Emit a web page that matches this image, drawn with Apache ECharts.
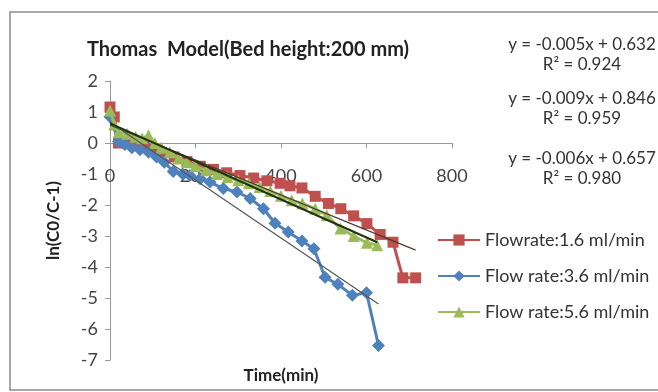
<!DOCTYPE html>
<html>
<head>
<meta charset="utf-8">
<script src="https://cdn.jsdelivr.net/npm/echarts@6/dist/echarts.min.js"></script>
<style>
  html, body { margin: 0; padding: 0; background: #fff; }
  #chart { width: 658px; height: 392px; }
</style>
</head>
<body>
<div id="chart"></div>
<script>
// values: [time (min), ln(C0/C-1)]
var redData = [[0, 1.16], [10, 0.84], [20, 0.0], [40, -0.02], [60, -0.05], [80, -0.1], [100, -0.2],
  [120, -0.3], [150, -0.45], [180, -0.6], [211, -0.75], [242, -0.85], [273, -0.96], [304, -1.05],
  [336, -1.13], [367, -1.22], [398, -1.3], [421, -1.38], [449, -1.45], [480, -1.72], [511, -1.95],
  [540, -2.12], [570, -2.35], [601, -2.6], [632, -2.95], [662, -3.2], [685, -4.35], [715, -4.35]];
var blueData = [[0, 0.85], [20, 0.05], [35, -0.05], [51, -0.15], [70, -0.22], [90, -0.3], [109, -0.45],
  [127, -0.62], [148, -0.92], [170, -1.0], [187, -1.05], [211, -1.15], [234, -1.26], [265, -1.47],
  [297, -1.58], [328, -1.79], [359, -2.12], [386, -2.59], [417, -2.87], [449, -3.16], [477, -3.41],
  [503, -4.33], [533, -4.56], [567, -4.91], [600, -4.83], [628, -6.53]];
var greenData = [[0, 1.05], [10, 0.6], [20, 0.35], [40, 0.3], [60, 0.2], [75, 0.15], [90, 0.25],
  [105, 0.0], [120, -0.15], [140, -0.3], [160, -0.5], [180, -0.62], [200, -0.75], [225, -0.88],
  [250, -1.0], [275, -1.1], [300, -1.2], [325, -1.3], [350, -1.42], [375, -1.55], [400, -1.7],
  [425, -1.85], [450, -1.95], [480, -2.12], [507, -2.33], [539, -2.76], [570, -3.0], [601, -3.22],
  [625, -3.3]];

var seriesNames = ['Flowrate:1.6 ml/min', 'Flow rate:3.6 ml/min', 'Flow rate:5.6 ml/min'];
var equations = [
  ['y = -0.005x + 0.632', 'R\u00b2 = 0.924'],
  ['y = -0.009x + 0.846', 'R\u00b2 = 0.959'],
  ['y = -0.006x + 0.657', 'R\u00b2 = 0.980']
];
var xTicks = { min: 0, max: 800, interval: 200 };
var yTicks = { min: -7, max: 2, interval: 1 };

// linear trendline over the data range (least squares)
function trend(data) {
  var n = data.length, sx = 0, sy = 0, sxx = 0, sxy = 0;
  data.forEach(function (p) { sx += p[0]; sy += p[1]; sxx += p[0] * p[0]; sxy += p[0] * p[1]; });
  var a = (n * sxy - sx * sy) / (n * sxx - sx * sx);
  var b = (sy - a * sx) / n;
  var x0 = data[0][0], x1 = data[n - 1][0];
  return [[x0, a * x0 + b], [x1, a * x1 + b]];
}

var font = 'Lato';
var gridTop = 81, gridBottom = 32, chartH = 392;
// move the x axis up from the grid bottom to y = 0
var plotH = chartH - gridTop - gridBottom;
var zeroShift = plotH * (0 - yTicks.min) / (yTicks.max - yTicks.min);

var chart = echarts.init(document.getElementById('chart'));

var eqGraphics = [];
var eqTop = [35, 89, 149];
equations.forEach(function (eq, i) {
  eqGraphics.push({
    type: 'text', x: 582, y: eqTop[i],
    style: { text: eq[0] + '\n' + eq[1], textAlign: 'center', fill: '#333',
      font: '17px ' + font, lineHeight: 20 }
  });
});

var option = {
  animation: false,
  title: {
    text: 'Thomas  Model(Bed height:200 mm)',
    left: 243, top: 35, textAlign: 'center',
    textStyle: { fontFamily: font, fontSize: 20, fontWeight: 'bold', color: '#222' }
  },
  graphic: [{
    type: 'rect', shape: { x: 10, y: 12, width: 660, height: 378 },
    style: { fill: 'none', stroke: '#8a8a8a', lineWidth: 1.5 }, silent: true
  }].concat(eqGraphics),
  legend: {
    orient: 'vertical', left: 432, top: 226, itemGap: 18,
    itemWidth: 42, itemHeight: 14,
    data: seriesNames,
    textStyle: { fontFamily: font, fontSize: 18, color: '#333' }
  },
  grid: { left: 110, right: 206, top: gridTop, bottom: gridBottom, outerBoundsMode: 'none', containLabel: false },
  xAxis: {
    type: 'value', min: xTicks.min, max: xTicks.max, interval: xTicks.interval,
    offset: -zeroShift,
    name: 'Time(min)', nameLocation: 'middle', nameGap: 224,
    nameTextStyle: { fontFamily: font, fontSize: 17, fontWeight: 'bold', color: '#222' },
    axisLine: { onZero: false, lineStyle: { color: '#999', width: 1 } },
    axisTick: { show: true, length: 5, lineStyle: { color: '#999' } },
    axisLabel: { margin: 24, fontFamily: font, fontSize: 18, color: '#444' },
    splitLine: { show: false }
  },
  yAxis: {
    type: 'value', min: yTicks.min, max: yTicks.max, interval: yTicks.interval,
    name: 'ln(C0/C-1)', nameLocation: 'middle', nameGap: 48, nameRotate: 90,
    nameTextStyle: { fontFamily: font, fontSize: 17, fontWeight: 'bold', color: '#222' },
    axisLine: { show: true, lineStyle: { color: '#999', width: 1 } },
    axisTick: { show: true, length: 5, lineStyle: { color: '#999' } },
    axisLabel: { margin: 12, fontFamily: font, fontSize: 18, color: '#444' },
    splitLine: { show: false }
  },
  series: [
    {
      name: seriesNames[0], type: 'line', data: redData,
      symbol: 'rect', symbolSize: 11, color: '#c0504d',
      lineStyle: { width: 3, color: '#c0504d' }, itemStyle: { color: '#c0504d' }, z: 2
    },
    {
      name: seriesNames[1], type: 'line', data: blueData,
      symbol: 'diamond', symbolSize: 13, color: '#4f81bd',
      lineStyle: { width: 3, color: '#4f81bd' }, itemStyle: { color: '#4f81bd' }, z: 3
    },
    {
      name: seriesNames[2], type: 'line', data: greenData,
      symbol: 'triangle', symbolSize: 12, color: '#9bbb59',
      lineStyle: { width: 3, color: '#9bbb59' }, itemStyle: { color: '#9bbb59' }, z: 4
    },
    {
      type: 'line', data: trend(redData), symbol: 'none', silent: true, z: 5,
      lineStyle: { width: 1.2, color: '#4a3a34' }
    },
    {
      type: 'line', data: trend(blueData), symbol: 'none', silent: true, z: 5,
      lineStyle: { width: 1.2, color: '#555' }
    },
    {
      type: 'line', data: trend(greenData), symbol: 'none', silent: true, z: 5,
      lineStyle: { width: 2, color: '#1f3310' }
    }
  ]
};

chart.setOption(option);
</script>
</body>
</html>
